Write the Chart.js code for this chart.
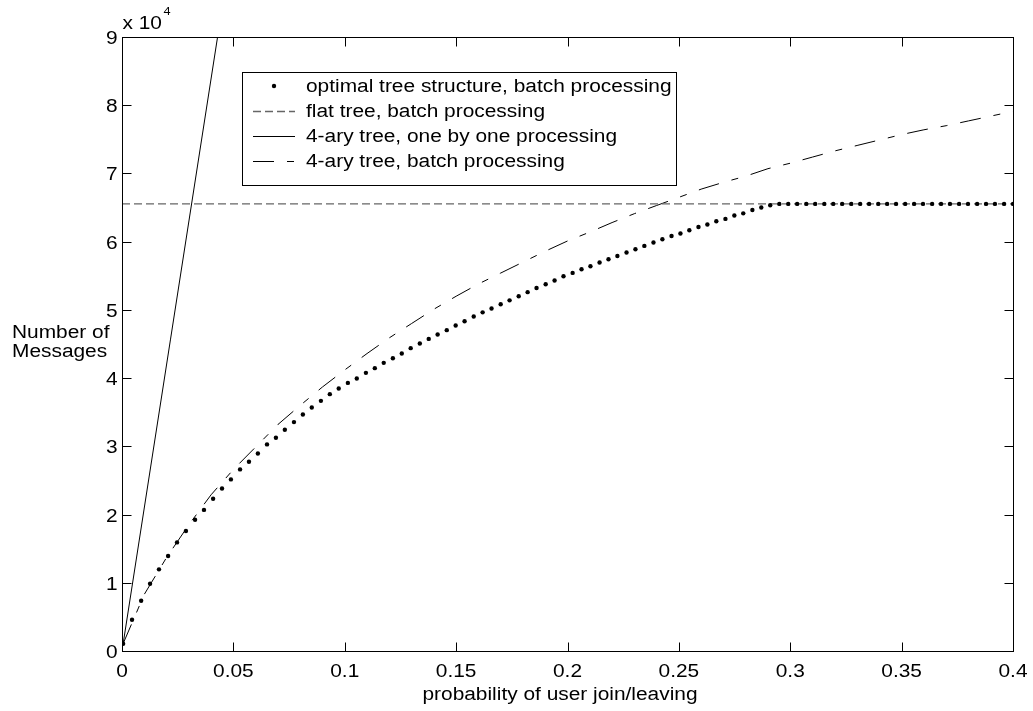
<!DOCTYPE html>
<html>
<head>
<meta charset="utf-8">
<title>Number of Messages vs probability of user join/leaving</title>
<script src="https://cdn.jsdelivr.net/npm/chart.js@4.4.1/dist/chart.umd.min.js"></script>
<style>
  html, body { margin: 0; padding: 0; background: #fff; }
  #wrap { width: 1033px; height: 711px; }
</style>
</head>
<body>
<div id="wrap"><canvas id="msgChart" width="1033" height="711"></canvas></div>
<script>
// probability values (x) of the sampled points
const pValues = [
  0.0005, 0.0045, 0.0086, 0.0126, 0.0166, 0.0207, 0.0247, 0.0287, 0.0328, 0.0368,
  0.0409, 0.0449, 0.0489, 0.0530, 0.0570, 0.0610, 0.0651, 0.0691, 0.0731, 0.0772,
  0.0812, 0.0852, 0.0893, 0.0933, 0.0973, 0.1014, 0.1054, 0.1095, 0.1135, 0.1175,
  0.1216, 0.1256, 0.1296, 0.1337, 0.1377, 0.1417, 0.1458, 0.1498, 0.1538, 0.1579,
  0.1619, 0.1659, 0.1700, 0.1740, 0.1781, 0.1821, 0.1861, 0.1902, 0.1942, 0.1982,
  0.2023, 0.2063, 0.2103, 0.2144, 0.2184, 0.2224, 0.2265, 0.2305, 0.2345, 0.2386,
  0.2426, 0.2467, 0.2507, 0.2547, 0.2588, 0.2628, 0.2668, 0.2709, 0.2749, 0.2789,
  0.2830, 0.2870, 0.2910, 0.2951, 0.2991, 0.3031, 0.3072, 0.3112, 0.3153, 0.3193,
  0.3233, 0.3274, 0.3314, 0.3354, 0.3395, 0.3435, 0.3475, 0.3516, 0.3556, 0.3596,
  0.3637, 0.3677, 0.3717, 0.3758, 0.3798, 0.3839, 0.3879, 0.3919, 0.3960, 0.4000
];

// messages (x 10^4), optimal tree structure, batch processing
const optimalMsgs = [
  0.107, 0.459, 0.737, 0.986, 1.197, 1.392, 1.592, 1.758, 1.924, 2.068,
  2.231, 2.383, 2.515, 2.662, 2.773, 2.896, 3.028, 3.125, 3.242, 3.355,
  3.467, 3.570, 3.667, 3.765, 3.848, 3.930, 3.995, 4.077, 4.146, 4.224,
  4.292, 4.361, 4.439, 4.508, 4.575, 4.640, 4.703, 4.771, 4.834, 4.903,
  4.964, 5.020, 5.083, 5.140, 5.200, 5.260, 5.320, 5.375, 5.430, 5.494,
  5.542, 5.596, 5.640, 5.694, 5.743, 5.791, 5.841, 5.889, 5.938, 5.987,
  6.036, 6.084, 6.119, 6.168, 6.216, 6.251, 6.300, 6.334, 6.384, 6.415,
  6.465, 6.500, 6.534, 6.5536, 6.5536, 6.5536, 6.5536, 6.5536, 6.5536, 6.5536,
  6.5536, 6.5536, 6.5536, 6.5536, 6.5536, 6.5536, 6.5536, 6.5536, 6.5536, 6.5536,
  6.5536, 6.5536, 6.5536, 6.5536, 6.5536, 6.5536, 6.5536, 6.5536, 6.5536, 6.5536
];

// flat tree, batch processing (constant)
const flatP = [0, 0.4];
const flatMsgs = [6.5536, 6.5536];

// 4-ary tree, one by one processing (straight line, leaves the top quickly)
const oneByOneP = [0.0005, 0.4];
const oneByOneMsgs = [0.105, 83.9];

// 4-ary tree, batch processing
const batchP = [0.0005, 0.01, 0.02, 0.03, 0.04, 0.05, 0.06, 0.07, 0.08, 0.09,
  0.10, 0.11, 0.12, 0.13, 0.14, 0.15, 0.16, 0.17, 0.18, 0.19, 0.20,
  0.21, 0.22, 0.23, 0.24, 0.25, 0.26, 0.27, 0.28, 0.29, 0.30,
  0.31, 0.32, 0.33, 0.34, 0.35, 0.36, 0.37, 0.38, 0.39, 0.40];
const batchMsgs = [0.107, 0.83, 1.37, 1.85, 2.29, 2.66, 2.99, 3.32, 3.60, 3.87,
  4.12, 4.36, 4.59, 4.80, 5.01, 5.20, 5.38, 5.54, 5.70, 5.86, 6.01,
  6.14, 6.28, 6.41, 6.53, 6.65, 6.77, 6.87, 6.96, 7.07, 7.15,
  7.24, 7.33, 7.41, 7.49, 7.57, 7.64, 7.70, 7.77, 7.84, 7.91];

const xTicks = [0, 0.05, 0.1, 0.15, 0.2, 0.25, 0.3, 0.35, 0.4];
const xTickLabels = ['0', '0.05', '0.1', '0.15', '0.2', '0.25', '0.3', '0.35', '0.4'];
const yTicks = [0, 1, 2, 3, 4, 5, 6, 7, 8, 9];
const yTickLabels = ['0', '1', '2', '3', '4', '5', '6', '7', '8', '9'];

const seriesLabels = [
  'optimal tree structure, batch processing',
  'flat tree, batch processing',
  '4-ary tree, one by one processing',
  '4-ary tree, batch processing'
];

const FONT = '"Liberation Sans", Arial, Helvetica, sans-serif';
const STRETCH = 1.16; // text in the reference is a bit wide

function toPoints(xs, ys) {
  return xs.map((x, i) => ({ x: x, y: ys[i] }));
}

function drawText(ctx, s, x, y, align, size) {
  ctx.save();
  ctx.translate(x, y);
  ctx.scale(STRETCH, 1);
  ctx.font = size + 'px ' + FONT;
  ctx.fillStyle = '#000';
  ctx.textAlign = align;
  ctx.textBaseline = 'alphabetic';
  ctx.fillText(s, 0, 0);
  ctx.restore();
}

// frame, inward ticks, tick labels, axis titles
const axesPlugin = {
  id: 'matlabAxes',
  afterDatasetsDraw(chart) {
    const ctx = chart.ctx;
    const a = chart.chartArea;
    const xs = chart.scales.x, ys = chart.scales.y;
    const L = Math.round(a.left) + 0.5, R = Math.round(a.right) + 0.5;
    const T = Math.round(a.top) + 0.5, B = Math.round(a.bottom) + 0.5;
    const tl = 9;

    ctx.save();
    ctx.strokeStyle = '#000';
    ctx.lineWidth = 1;
    ctx.setLineDash([]);
    ctx.strokeRect(L, T, R - L, B - T);

    ctx.beginPath();
    xTicks.forEach(v => {
      const px = Math.round(xs.getPixelForValue(v)) + 0.5;
      ctx.moveTo(px, B); ctx.lineTo(px, B - tl);
      ctx.moveTo(px, T); ctx.lineTo(px, T + tl);
    });
    yTicks.forEach(v => {
      const py = Math.round(ys.getPixelForValue(v)) + 0.5;
      ctx.moveTo(L, py); ctx.lineTo(L + tl, py);
      ctx.moveTo(R, py); ctx.lineTo(R - tl, py);
    });
    ctx.stroke();
    ctx.restore();

    xTicks.forEach((v, i) => {
      drawText(ctx, xTickLabels[i], xs.getPixelForValue(v), B + 25, 'center', 18);
    });
    yTicks.forEach((v, i) => {
      drawText(ctx, yTickLabels[i], L - 5, ys.getPixelForValue(v) + 7, 'right', 18);
    });

    // exponent label
    drawText(ctx, 'x 10', L, T - 9, 'left', 18);
    drawText(ctx, '4', L + 41, T - 23, 'left', 11);

    // axis titles
    drawText(ctx, 'probability of user join/leaving', (L + R) / 2 - 8, B + 48, 'center', 18);
    drawText(ctx, 'Number of', 12, 338, 'left', 18);
    drawText(ctx, 'Messages', 12, 357, 'left', 18);
  }
};

// boxed legend inside the plot
const legendPlugin = {
  id: 'boxLegend',
  afterDatasetsDraw(chart) {
    const ctx = chart.ctx;
    const box = { left: 242.5, top: 72.5, right: 676.5, bottom: 185.5 };
    ctx.save();
    ctx.fillStyle = '#fff';
    ctx.fillRect(box.left, box.top, box.right - box.left, box.bottom - box.top);
    ctx.strokeStyle = '#000';
    ctx.lineWidth = 1;
    ctx.strokeRect(box.left, box.top, box.right - box.left, box.bottom - box.top);

    chart.data.datasets.forEach((ds, i) => {
      const cy = 86 + i * 25;
      const x0 = 253, x1 = 295;
      if (ds.showLine === false) {
        ctx.beginPath();
        ctx.fillStyle = ds.pointBackgroundColor;
        ctx.arc((x0 + x1) / 2, cy, ds.pointRadius, 0, Math.PI * 2);
        ctx.fill();
      } else {
        ctx.beginPath();
        ctx.strokeStyle = ds.borderColor;
        ctx.lineWidth = ds.borderWidth;
        ctx.setLineDash(ds.borderDash || []);
        ctx.moveTo(x0, cy + 0.5);
        ctx.lineTo(x1, cy + 0.5);
        ctx.stroke();
        ctx.setLineDash([]);
      }
      drawText(ctx, ds.label, 306, cy + 6, 'left', 18);
    });
    ctx.restore();
  }
};

const ctx = document.getElementById('msgChart').getContext('2d');
const msgChart = new Chart(ctx, {
  type: 'line',
  data: {
    datasets: [
      {
        label: seriesLabels[0],
        data: toPoints(pValues, optimalMsgs),
        showLine: false,
        pointRadius: 2.2,
        pointBorderWidth: 0,
        pointBackgroundColor: '#000',
        borderColor: '#000'
      },
      {
        label: seriesLabels[1],
        data: toPoints(flatP, flatMsgs),
        borderColor: '#666',
        borderWidth: 1.4,
        borderDash: [8, 4],
        pointRadius: 0
      },
      {
        label: seriesLabels[2],
        data: toPoints(oneByOneP, oneByOneMsgs),
        borderColor: '#000',
        borderWidth: 1,
        pointRadius: 0
      },
      {
        label: seriesLabels[3],
        data: toPoints(batchP, batchMsgs),
        borderColor: '#000',
        borderWidth: 1,
        borderDash: [21, 13, 7, 13],
        pointRadius: 0
      }
    ]
  },
  options: {
    responsive: false,
    animation: false,
    events: [],
    layout: { padding: { left: 122, top: 37, right: 20, bottom: 60 } },
    elements: { line: { tension: 0 } },
    plugins: {
      legend: { display: false },
      tooltip: { enabled: false }
    },
    scales: {
      x: { type: 'linear', min: 0, max: 0.4, display: false },
      y: { type: 'linear', min: 0, max: 9, display: false }
    }
  },
  plugins: [axesPlugin, legendPlugin]
});
</script>
</body>
</html>
